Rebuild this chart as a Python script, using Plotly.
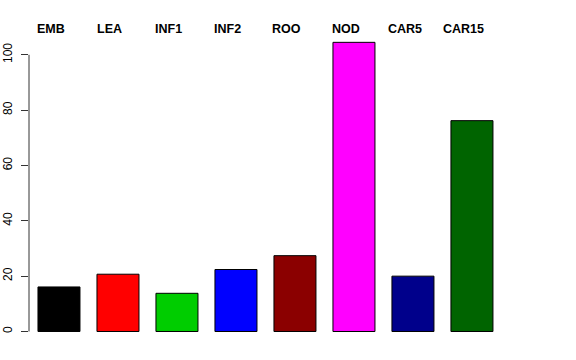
import plotly.graph_objects as go

categories = ["EMB", "LEA", "INF1", "INF2", "ROO", "NOD", "CAR5", "CAR15"]
values = [16.1, 20.7, 13.8, 22.4, 27.4, 104.5, 20.0, 76.2]
colors = ["#000000", "#FF0000", "#00CD00", "#0000FF", "#8B0000", "#FF00FF", "#00008B", "#006400"]
y_ticks = [0, 20, 40, 60, 80, 100]

xpos = list(range(len(categories)))

fig = go.Figure()
fig.add_trace(go.Bar(
    x=xpos, y=values, width=0.712,
    marker=dict(color=colors, line=dict(color="#000000", width=1)),
    hoverinfo="skip",
))

annotations = []
for i, c in enumerate(categories):
    annotations.append(dict(
        x=i - 0.14, y=1, xref="x", yref="paper", text=c, showarrow=False,
        yanchor="middle", xanchor="center", yshift=2,
        font=dict(family="Liberation Sans, Arial, sans-serif", size=12.5, color="#000000", weight="bold"),
    ))

fig.update_layout(
    width=576, height=360,
    margin=dict(l=29, r=29, t=31, b=18, pad=0, autoexpand=False),
    plot_bgcolor="white", paper_bgcolor="white",
    showlegend=False,
    annotations=annotations,
    shapes=[dict(type="line", xref="paper", yref="y", x0=0, x1=0, y0=0, y1=100,
                 line=dict(color="#333333", width=1))],
    xaxis=dict(range=[-0.508, 8.272], visible=False, fixedrange=True, automargin=False),
    yaxis=dict(range=[-3.8, 108.6], tickvals=y_ticks, ticks="outside", ticklen=7,
               tickcolor="#333333", showgrid=False, zeroline=False, showline=False,
               tickangle=-90, ticklabelstandoff=4, automargin=False, fixedrange=True,
               tickfont=dict(family="Liberation Sans, Arial, sans-serif", size=12, color="#000000")),
)

fig.write_html("out.html", config={"displayModeBar": False, "staticPlot": True},
               post_script="document.body.style.margin='0';document.body.style.overflow='hidden';")
